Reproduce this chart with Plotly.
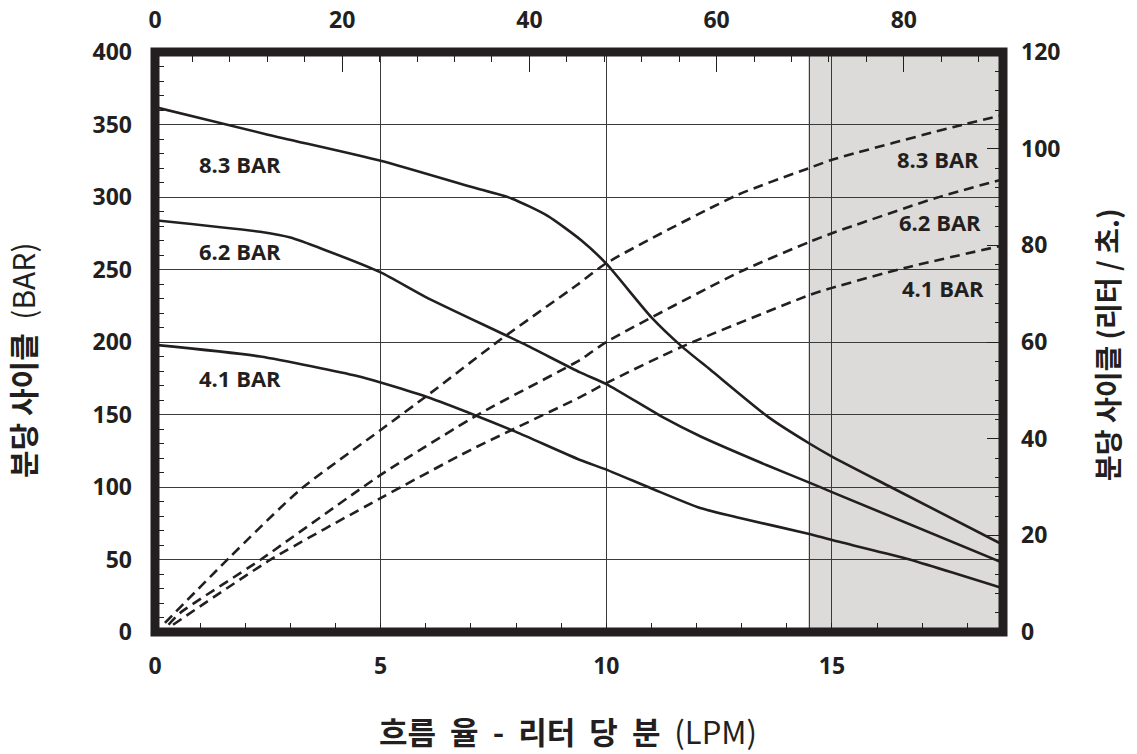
import plotly.graph_objects as go

# ---- data ----
# solid curves: cycles per minute (left axis) vs flow (LPM)
flow_83_solid = [0, 2.5, 5, 7, 7.9, 8.7, 9.45, 10, 11, 11.67, 12.3, 13.6, 14.5, 15, 16.3, 18.8]
cyc_83_solid = [362, 343, 325, 307, 299, 287, 270, 254, 217, 197, 181, 148, 130, 121, 100, 60]

flow_62_solid = [0, 2.33, 3.0, 3.72, 5, 6, 8.15, 9.42, 10, 11.26, 12.08, 13.56, 14.5, 15, 18.8]
cyc_62_solid = [284, 276, 272, 264, 248, 231, 199, 179, 171, 148, 135, 115, 103, 96.5, 47.5]

flow_41_solid = [0, 2.33, 4.48, 5, 6.03, 7.13, 8.0, 9.42, 10, 11, 12.08, 12.96, 14.5, 15, 16.6, 18.8]
cyc_41_solid = [198, 190, 176.5, 172, 162, 149, 138, 118.6, 112, 99, 85.5, 78.6, 67.6, 63.4, 51, 30]

# dashed curves: right axis values vs flow
flow_83_dash = [0.22, 1.66, 3.21, 5, 6.1, 7.64, 9.35, 10, 12.9, 14.5, 15, 17.7, 18.8]
val_83_dash = [1.9, 15.5, 29.4, 41.8, 49.4, 60.4, 71.8, 76.3, 90.4, 96, 97.7, 104.5, 107]

flow_62_dash = [0.3, 0.55, 2.33, 5, 7.2, 9.42, 10, 12.96, 14.5, 15, 17.3, 18.8]
val_62_dash = [1.5, 3.9, 14.9, 32.5, 45.2, 56.3, 60, 74.5, 80.7, 82.5, 89.8, 93.7]

flow_41_dash = [0.4, 2.55, 5, 7, 9.42, 10, 11.67, 14.5, 15, 16.6, 18.8]
val_41_dash = [1.5, 14.9, 27.7, 37.7, 48.6, 51.5, 59, 69.7, 71.2, 75.3, 80]

# axis ranges / ticks
x_range = [0, 18.79]
x_ticks = [0, 5, 10, 15]
x2_range = [0, 90.6]
x2_ticks = [0, 20, 40, 60, 80]
y_range = [0, 400]
y2_range = [0, 120]
shade_start = 14.5

# curve labels
label_texts = ["8.3 BAR", "6.2 BAR", "4.1 BAR"]
left_label_x = [1.88, 1.88, 1.88]
left_label_y = [323, 263, 175]
right_label_x = [17.35, 17.39, 17.46]
right_label_y = [326, 283, 237]

# ---- styling ----
BLACK = "#231f20"
GRID = "#3a3a3a"
FONT = "Open Sans, Noto Sans CJK KR, sans-serif"
KFONT = "Noto Sans CJK KR, sans-serif"
NB = "&nbsp;"

fig = go.Figure()

for xs, ys in [(flow_83_solid, cyc_83_solid), (flow_62_solid, cyc_62_solid), (flow_41_solid, cyc_41_solid)]:
    fig.add_trace(go.Scatter(x=xs, y=ys, mode="lines", showlegend=False, hoverinfo="skip",
                             line=dict(color=BLACK, width=2.6, shape="spline", smoothing=0.6)))

for xs, ys in [(flow_83_dash, val_83_dash), (flow_62_dash, val_62_dash), (flow_41_dash, val_41_dash)]:
    fig.add_trace(go.Scatter(x=xs, y=ys, mode="lines", yaxis="y2", showlegend=False, hoverinfo="skip",
                             line=dict(color=BLACK, width=2.6, dash="10px,6px", shape="spline", smoothing=0.6)))

# invisible trace to register top axis
fig.add_trace(go.Scatter(x=[x2_range[0]], y=[y_range[0]], xaxis="x2", mode="markers",
                         marker=dict(opacity=0), showlegend=False, hoverinfo="skip"))

tickfont = dict(family=FONT, size=23, color=BLACK, weight=700)

fig.update_layout(
    width=1137, height=754,
    margin=dict(l=155, r=134, t=52, b=122),
    paper_bgcolor="white", plot_bgcolor="white",
    xaxis=dict(range=x_range, tickvals=x_ticks, showgrid=True, gridcolor=GRID, gridwidth=1.2,
               zeroline=False, showline=False, ticks="inside", ticklen=1, tickcolor=GRID,
               tickfont=tickfont, ticklabelstandoff=18, automargin=False,
               minor=dict(dtick=1, ticks="inside", ticklen=9, tickcolor=BLACK, tickwidth=1.3, showgrid=False)),
    xaxis2=dict(range=x2_range, tickvals=x2_ticks, overlaying="x", side="top", showgrid=False,
                zeroline=False, showline=False, ticks="inside", ticklen=20, tickcolor=BLACK, tickwidth=1.4,
                tickfont=tickfont, ticklabelstandoff=18, automargin=False,
                minor=dict(dtick=4, ticks="inside", ticklen=10, tickcolor=BLACK, tickwidth=1.3, showgrid=False)),
    yaxis=dict(range=y_range, dtick=50, showgrid=True, gridcolor=GRID, gridwidth=1.2,
               zeroline=False, showline=False, ticks="inside", ticklen=1, tickcolor=GRID,
               tickfont=tickfont, ticklabelstandoff=22, automargin=False,
               minor=dict(dtick=10, ticks="inside", ticklen=9, tickcolor=BLACK, tickwidth=1.3, showgrid=False)),
    yaxis2=dict(range=y2_range, dtick=20, overlaying="y", side="right", showgrid=False,
                zeroline=False, showline=False, ticks="inside", ticklen=16, tickcolor=BLACK, tickwidth=1.4,
                tickfont=tickfont, ticklabelstandoff=17, automargin=False,
                minor=dict(dtick=4, ticks="inside", ticklen=8, tickcolor=BLACK, tickwidth=1.3, showgrid=False)),
    shapes=[
        dict(type="rect", xref="x", yref="paper", x0=shade_start, x1=x_range[1], y0=0, y1=1,
             fillcolor="#dcdbd9", line=dict(width=0), layer="below"),
        dict(type="line", xref="x", yref="paper", x0=shade_start, x1=shade_start, y0=0, y1=1,
             line=dict(color=GRID, width=1.2), layer="below"),
        dict(type="rect", xref="paper", yref="paper", x0=0, x1=1, y0=0, y1=1,
             line=dict(color=BLACK, width=9), fillcolor="rgba(0,0,0,0)", layer="above"),
    ],
)

annotations = []
for t, x, y in zip(label_texts, left_label_x, left_label_y):
    annotations.append(dict(x=x, y=y, xref="x", yref="y", text=t, showarrow=False,
                            xanchor="center", yanchor="middle",
                            font=dict(family=FONT, size=22, color=BLACK, weight=700)))
for t, x, y in zip(label_texts, right_label_x, right_label_y):
    annotations.append(dict(x=x, y=y, xref="x", yref="y", text=t, showarrow=False,
                            xanchor="center", yanchor="middle",
                            font=dict(family=FONT, size=22, color=BLACK, weight=700)))

# titles positioned in paper coordinates (plot area is 848 x 580 px)
annotations.append(dict(x=(22 - 155) / 848, y=(632 - 360) / 580, xref="paper", yref="paper",
                        xanchor="center", yanchor="middle", textangle=-90, showarrow=False,
                        text="<b>분당 사이클</b>" + NB + NB + "(BAR)", font=dict(family=KFONT, size=30, color=BLACK)))
annotations.append(dict(x=(1107 - 155) / 848, y=(632 - 345) / 580, xref="paper", yref="paper",
                        xanchor="center", yanchor="middle", textangle=-90, showarrow=False,
                        text="<b>분당 사이클 (리터 / 초.)</b>", font=dict(family=KFONT, size=28, color=BLACK)))
bottom_title = (NB + " ").join(["<b>흐름", "율", "-", "리터", "당", "분</b>", "(LPM)"])
annotations.append(dict(x=(568 - 155) / 848, y=(632 - 730) / 580, xref="paper", yref="paper",
                        xanchor="center", yanchor="middle", showarrow=False,
                        text=bottom_title, font=dict(family=KFONT, size=31, color=BLACK)))

fig.update_layout(annotations=annotations)

# remove the browser's default 8px page margin so the figure fills the window exactly
fig.write_html("out.html", config={"displayModeBar": False},
               post_script="document.body.style.margin='0px';")
